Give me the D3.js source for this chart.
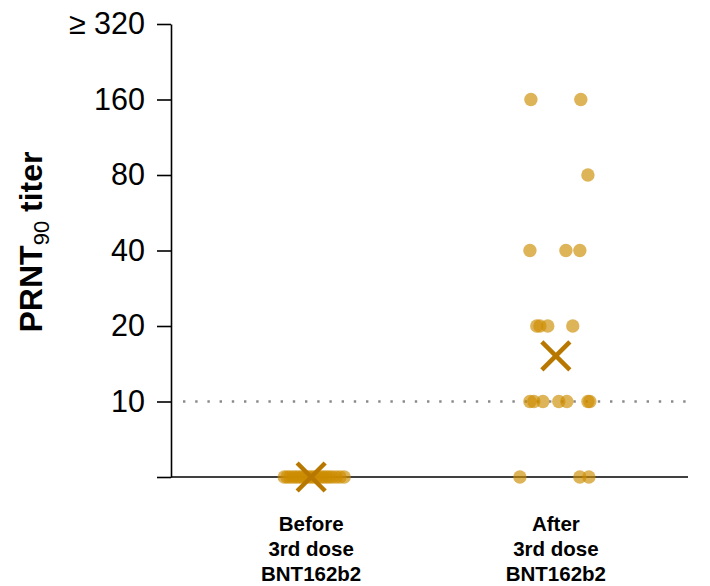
<!DOCTYPE html>
<html>
<head>
<meta charset="utf-8">
<script src="https://cdn.jsdelivr.net/npm/d3@7"></script>
<style>
  html, body { margin: 0; padding: 0; background: #fff; }
  svg { display: block; font-family: "Liberation Sans", Arial, sans-serif; }
</style>
</head>
<body>
<svg id="chart" width="710" height="586"></svg>
<script>
// ---------------- data ----------------
const categories = ["Before", "After"];
const categoryLabels = [["Before", "3rd dose", "BNT162b2"], ["After", "3rd dose", "BNT162b2"]];

// PRNT90 titers (5 = below detection limit of 10)
const beforeValues = [5,5,5,5,5,5,5,5,5,5,5,5,5,5,5,5,5,5,5,5];
const afterValues  = [160,160,80,40,40,40,20,20,20,20,10,10,10,10,10,10,10,5,5,5];

// horizontal jitter, as fraction of category step
const beforeJitter = [-0.110,-0.098,-0.086,-0.073,-0.061,-0.049,-0.037,-0.024,-0.012,0.000,
                      0.012,0.024,0.037,0.049,0.061,0.073,0.086,0.102,0.118,0.135];
const afterJitter  = [-0.102,0.102,0.131,-0.106,0.041,0.098,-0.078,-0.065,-0.033,0.069,
                      -0.106,-0.090,-0.053,0.012,0.045,0.131,0.139,-0.147,0.098,0.135];

// geometric mean titers
const geoMeans = [5, 15.2];

const tickValues = [5, 10, 20, 40, 80, 160, 320];
const tickLabels = ["", "10", "20", "40", "80", "160", "\u2265 320"];
const thresholdValue = 10;

// ---------------- chart ----------------
const svg = d3.select("#chart");
const dotFill = "#CD8C00", crossColor = "#B87800";

const y = d3.scaleLog().base(2).domain([5, 320]).range([477, 24]);
const x = d3.scalePoint().domain(categories).range([179, 688]).padding(0.54);
const step = x.step();

// threshold dotted line
svg.append("line")
  .attr("x1", 183).attr("x2", 688)
  .attr("y1", y(thresholdValue)).attr("y2", y(thresholdValue))
  .attr("stroke", "#8a8a8a").attr("stroke-width", 2.5)
  .attr("stroke-dasharray", "2.4,9.8");

// y axis
const yAxis = d3.axisLeft(y)
  .tickValues(tickValues)
  .tickFormat((d, i) => tickLabels[i])
  .tickSize(14).tickSizeOuter(0).tickPadding(12);

const gy = svg.append("g").attr("transform", "translate(171,0)").call(yAxis);
gy.select(".domain").attr("stroke", "#000").attr("stroke-width", 1.6);
gy.selectAll(".tick line").attr("stroke", "#000").attr("stroke-width", 1.6);
gy.selectAll(".tick text")
  .attr("font-size", 30.5).attr("fill", "#000")
  .attr("font-family", "'Liberation Sans', Arial, sans-serif");

// x axis line
svg.append("line")
  .attr("x1", 171).attr("x2", 688)
  .attr("y1", y(5)).attr("y2", y(5))
  .attr("stroke", "#000").attr("stroke-width", 1.6);

// category labels
categories.forEach((c, i) => {
  const t = svg.append("text")
    .attr("x", x(c)).attr("y", 531)
    .attr("text-anchor", "middle")
    .attr("font-weight", "bold").attr("font-size", 20.5).attr("fill", "#000");
  categoryLabels[i].forEach((line, j) => {
    t.append("tspan").attr("x", x(c)).attr("dy", j === 0 ? 0 : 25).text(line);
  });
});

// y title
const yt = svg.append("text")
  .attr("transform", "translate(42,242) rotate(-90)")
  .attr("text-anchor", "middle")
  .attr("font-weight", "bold").attr("font-size", 32).attr("fill", "#000");
yt.append("tspan").text("PRNT");
yt.append("tspan").attr("font-size", 22).attr("font-weight", "normal").attr("dy", 7).text("90");
yt.append("tspan").attr("dy", -7).text(" titer");

// points
const points = [];
beforeValues.forEach((v, i) => points.push({cat: "Before", v, j: beforeJitter[i]}));
afterValues.forEach((v, i) => points.push({cat: "After", v, j: afterJitter[i]}));

svg.append("g").selectAll("circle").data(points).join("circle")
  .attr("cx", d => x(d.cat) + d.j * step)
  .attr("cy", d => y(d.v))
  .attr("r", 6.7)
  .attr("fill", dotFill).attr("fill-opacity", 0.65);

// geometric mean crosses
const cs = 14;
const gm = svg.append("g");
categories.forEach((c, i) => {
  const cx = x(c), cy = y(geoMeans[i]);
  gm.append("line").attr("x1", cx - cs).attr("y1", cy - cs).attr("x2", cx + cs).attr("y2", cy + cs)
    .attr("stroke", crossColor).attr("stroke-width", 4.5);
  gm.append("line").attr("x1", cx - cs).attr("y1", cy + cs).attr("x2", cx + cs).attr("y2", cy - cs)
    .attr("stroke", crossColor).attr("stroke-width", 4.5);
});
</script>
</body>
</html>
